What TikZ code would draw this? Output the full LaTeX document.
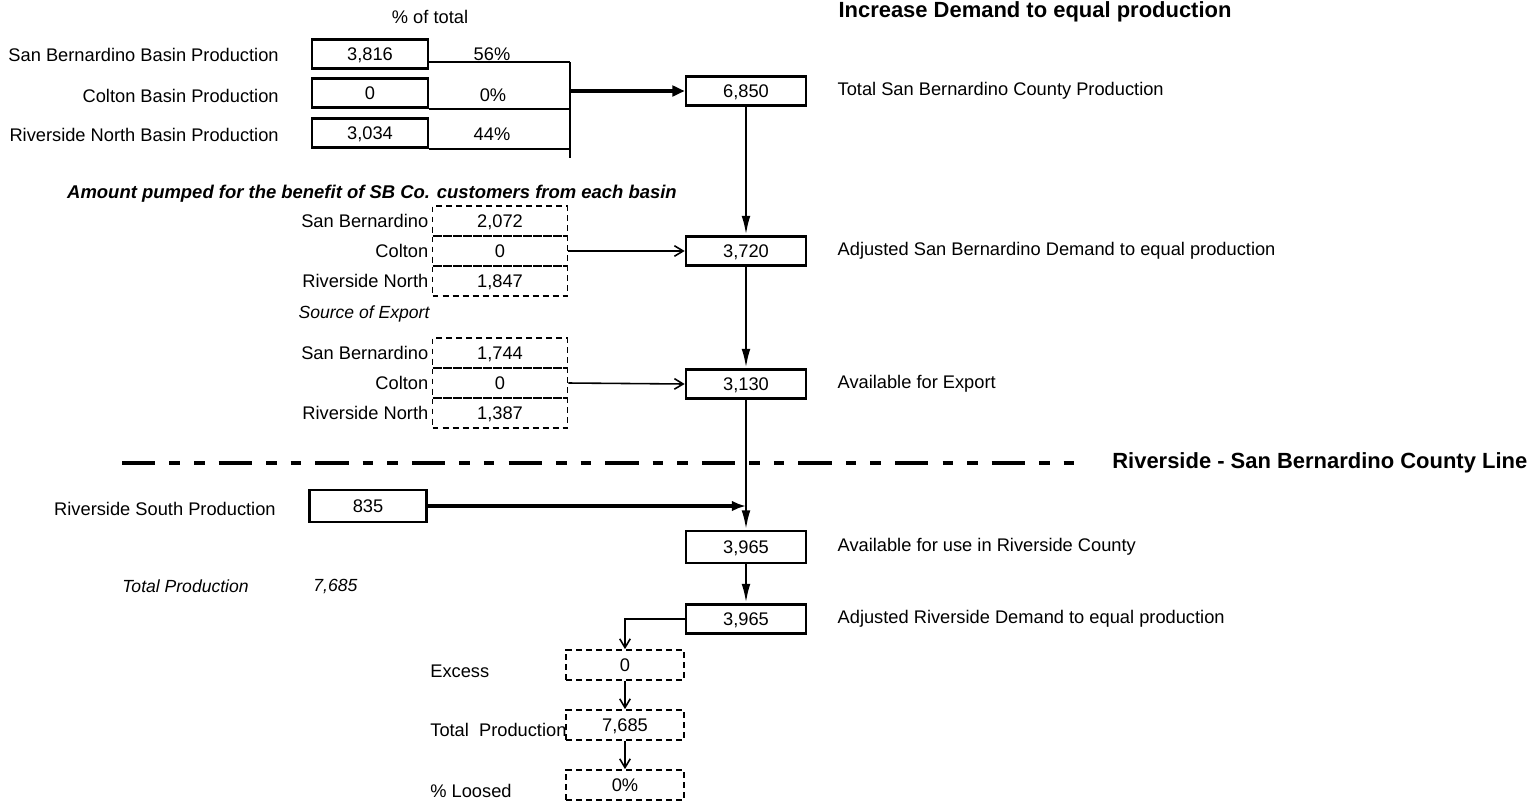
\documentclass[tikz,border=0pt]{standalone}
\usepackage{fontspec}
\setmainfont{Liberation Sans}
\usetikzlibrary{positioning}
\usetikzlibrary{arrows.meta}

\tikzset{
  valbox/.style={draw, line width=1.5pt, minimum width=2.4cm, minimum height=0.58cm, inner sep=0pt, text height=7.4pt, text depth=0pt},
  srcbox/.style={valbox, minimum width=2.32cm},
  cell/.style={draw, line width=1pt, dash pattern=on 3.4pt off 2.3pt, minimum width=2.7cm, minimum height=0.6cm, inner sep=0pt, text height=7.4pt, text depth=0pt},
  lbl/.style={inner sep=0pt},
  head/.style={inner sep=0pt, font=\bfseries\fontsize{12.5}{14}\selectfont},
  flow/.style={line width=1.4pt, -{Latex[length=11pt,width=5pt]}},
  feed/.style={line width=0.9pt, -{Straight Barb[length=5pt,width=6pt]}},
  county/.style={line width=2.2pt, dash pattern=on 19pt off 8pt on 6pt off 8pt on 6pt off 8pt}
}

\begin{document}
\begin{tikzpicture}[x=0.02cm, y=-0.02cm, font=\fontsize{10.4}{12}\selectfont]
\useasboundingbox (0,0) rectangle (1529,802);

% headings
\node[head] (title) at (1035,12) {Increase Demand to equal production};
\node[lbl] (pctHead) at (430,17) {\% of total};

% basin production
{
\node[srcbox] (sbProd) at (370,54) {3,816};
\node[srcbox] (coltonProd) at (370,93) {0};
\node[srcbox] (rnProd) at (370,133) {3,034};

\node[lbl, anchor=east] (sbProdL) at (279,55) {San Bernardino Basin Production};
\node[lbl, anchor=east] (coltonProdL) at (279,96) {Colton Basin Production};
\node[lbl, anchor=east] (rnProdL) at (279,135) {Riverside North Basin Production};

\node[lbl] (sbPct) at (492,54) {56\%};
\node[lbl] (coltonPct) at (493,95) {0\%};
\node[lbl] (rnPct) at (492,134) {44\%};
}

\coordinate (busTop) at (570,62);
\coordinate (busBot) at (570,158);
\draw[line width=1pt] (busTop) -- (busBot);
\draw[line width=1pt] (sbProd.east |- busTop) -- (busTop);
\draw[line width=1pt] (coltonProd.south east) -- (coltonProd.south east -| busTop);
\draw[line width=1pt] (rnProd.south east) -- (rnProd.south east -| busTop);

\node[valbox] (sbTotal) at (746,91) {6,850};
\node[lbl, right=0.6cm of sbTotal] (sbTotalL) {Total San Bernardino County Production};
\draw[line width=2pt, -{Triangle[length=7pt,width=6pt]}] (sbTotal.west -| busTop) -- (sbTotal.west);

% amount pumped for SB customers
{
\node[lbl, font=\bfseries\itshape\fontsize{10.5}{12}\selectfont] (amtHead) at (372,194) {Amount pumped for the benefit of SB Co. customers from each basin};
\node[cell] (amtSB) at (500,221) {2,072};
\node[cell] (amtColton) at (500,251) {0};
\node[cell] (amtRN) at (500,281) {1,847};
\node[lbl, left=0.06cm of amtSB] {San Bernardino};
\node[lbl, left=0.06cm of amtColton] {Colton};
\node[lbl, left=0.06cm of amtRN] {Riverside North};
}

\node[valbox] (sbAdj) at (746,251) {3,720};
\node[lbl, right=0.6cm of sbAdj] (sbAdjL) {Adjusted San Bernardino Demand to equal production};
\draw[feed] (amtColton.east) -- (sbAdj.west);
\draw[flow] (sbTotal.south) -- (sbAdj.north);

% source of export
{
\node[lbl, font=\itshape] (expHead) at (364,314) {Source of Export};
\node[cell] (expSB) at (500,353) {1,744};
\node[cell] (expColton) at (500,383) {0};
\node[cell] (expRN) at (500,413) {1,387};
\node[lbl, left=0.06cm of expSB] {San Bernardino};
\node[lbl, left=0.06cm of expColton] {Colton};
\node[lbl, left=0.06cm of expRN] {Riverside North};
}

\node[valbox] (export) at (746,384) {3,130};
\node[lbl, right=0.6cm of export] (exportL) {Available for Export};
\draw[feed] (expColton.east) -- (export.west);
\draw[flow] (sbAdj.south) -- (export.north);

% county line
\coordinate (lineW) at (122,463);
\coordinate (lineE) at (1080,463);
\draw[county] (lineW) -- (lineE);
\node[head, anchor=west] (lineL) at (1112,463) {Riverside - San Bernardino County Line};

% riverside county
\node[srcbox, minimum width=2.34cm, minimum height=0.64cm] (rsProd) at (368,506) {835};
\node[lbl, anchor=east] (rsProdL) at (276,509) {Riverside South Production};

\node[valbox, minimum height=0.64cm] (rcAvail) at (746,547) {3,965};
\node[lbl, right=0.6cm of rcAvail] (rcAvailL) {Available for use in Riverside County};
\coordinate (join) at (746,506);
\draw[flow] (export.south) -- (rcAvail.north);
\draw[line width=1.8pt, -{Latex[length=8pt,width=6pt]}] (rsProd.east) -- (join);

\node[lbl, anchor=west, font=\itshape] (totL) at (122,586) {Total Production};
\node[lbl, anchor=west, font=\itshape] (totV) at (313,586) {7,685};

\node[valbox] (rcAdj) at (746,619) {3,965};
\node[lbl, right=0.6cm of rcAdj] (rcAdjL) {Adjusted Riverside Demand to equal production};
\draw[flow] (rcAvail.south) -- (rcAdj.north);

% excess / loss
{
\node[lbl, anchor=west] (excessL) at (430,671) {Excess};
\node[lbl, anchor=west] (totProdL) at (430,730) {Total\ \ Production};
\node[lbl, anchor=west] (loosedL) at (430,791) {\% Loosed};

\node[cell, fill=white, minimum width=2.36cm] (excess) at (625,665) {0};
\node[cell, fill=white, minimum width=2.36cm] (totProd) at (625,725) {7,685};
\node[cell, fill=white, minimum width=2.36cm] (loosed) at (625,785) {0\%};
}

\draw[feed] (rcAdj.west) -| (excess.north);
\draw[feed] (excess.south) -- (totProd.north);
\draw[feed] (totProd.south) -- (loosed.north);

\end{tikzpicture}
\end{document}
